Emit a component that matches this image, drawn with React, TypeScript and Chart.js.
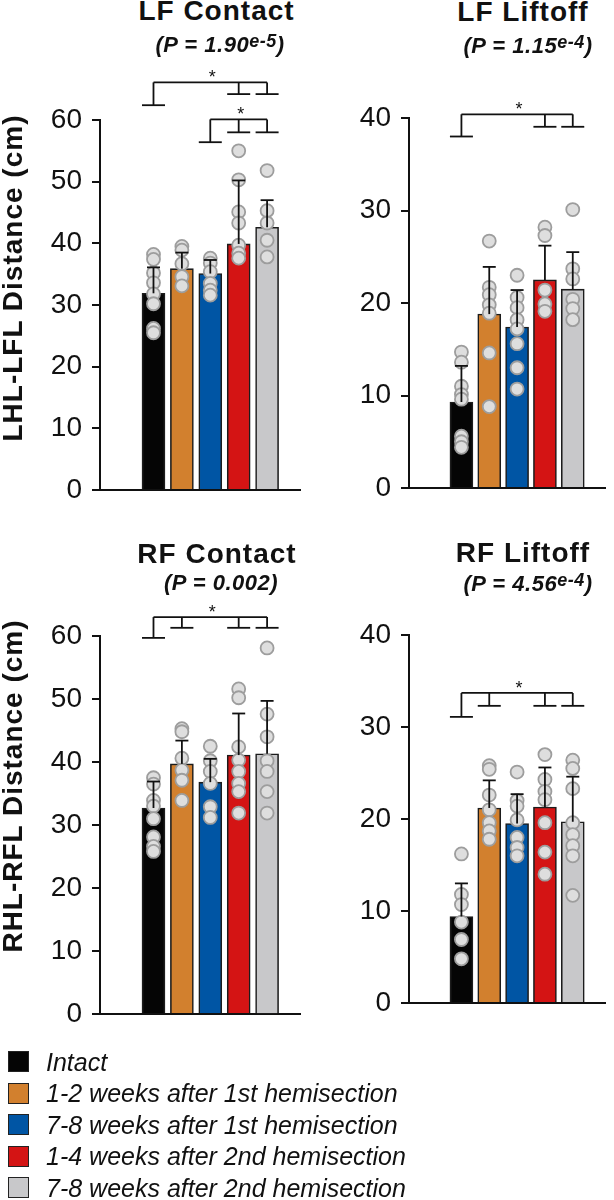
import React, { useEffect, useRef } from 'react';
import { Chart, registerables } from 'chart.js';

Chart.register(...registerables);

const FONT = '"Liberation Sans", Arial, Helvetica, sans-serif';
Chart.defaults.font.family = FONT;

// ---------- data ----------
const groupLabels = [
  'Intact',
  '1-2 weeks after 1st hemisection',
  '7-8 weeks after 1st hemisection',
  '1-4 weeks after 2nd hemisection',
  '7-8 weeks after 2nd hemisection',
];
const groupColors = ['#050505', '#d2802e', '#0055a4', '#d41414', '#c8c8ca'];
const groupPositions = [0, 1, 2, 3, 4];

const panelTitles = ['LF Contact', 'LF Liftoff', 'RF Contact', 'RF Liftoff'];
const pValueMain = ['1.90', '1.15', '0.002', '4.56'];
const pValueExp = ['e-5', 'e-4', '', 'e-4'];
const yAxisTitles = ['LHL-LFL Distance (cm)', 'RHL-RFL Distance (cm)'];

// LF Contact
const lfContactMeans = [31.9, 35.9, 35.1, 39.9, 42.6];
const lfContactSD = [4.2, 2.6, 2.2, 10.3, 4.4];
const lfContactPoints = [
  [38.2, 37.4, 35.2, 33.6, 31.8, 30.2, 26.2, 25.5],
  [39.5, 38.9, 36.7, 34.6, 33.1],
  [37.6, 36.8, 35.4, 33.5, 32.4, 31.6],
  [55.0, 50.3, 45.1, 43.3, 39.7, 38.4, 37.6],
  [51.8, 45.3, 43.3, 40.5, 37.8],
];

// LF Liftoff
const lfLiftoffMeans = [9.3, 18.8, 17.4, 22.5, 21.5];
const lfLiftoffSD = [3.9, 5.1, 4.0, 3.7, 4.0];
const lfLiftoffPoints = [
  [14.7, 13.6, 11.0, 10.1, 9.6, 5.6, 5.0, 4.4],
  [26.7, 21.7, 20.9, 19.8, 18.9, 14.6, 8.8],
  [23.0, 20.6, 19.5, 18.2, 17.2, 15.6, 13.0, 10.7],
  [28.2, 27.3, 21.4, 19.9, 19.1],
  [30.1, 23.7, 22.6, 20.4, 19.4, 18.2],
];

// RF Contact
const rfContactMeans = [32.7, 39.7, 36.8, 41.1, 41.3];
const rfContactSD = [4.2, 3.7, 3.7, 6.6, 8.4];
const rfContactPoints = [
  [37.5, 36.5, 33.9, 33.0, 31.0, 28.1, 26.6, 25.8],
  [45.3, 44.8, 40.6, 38.7, 37.1, 33.9],
  [42.5, 40.2, 38.5, 36.6, 32.9, 31.2],
  [51.6, 50.2, 42.4, 40.3, 38.5, 36.6, 35.3, 31.9],
  [58.1, 47.6, 44.0, 40.2, 38.5, 35.3, 31.9],
];

// RF Liftoff
const rfLiftoffMeans = [9.4, 21.2, 19.5, 21.3, 19.7];
const rfLiftoffSD = [3.6, 3.0, 3.2, 4.3, 4.9];
const rfLiftoffPoints = [
  [16.2, 11.8, 10.7, 8.8, 6.9, 4.8],
  [25.8, 25.4, 22.6, 21.0, 19.6, 18.7, 17.8],
  [25.1, 22.0, 21.4, 19.9, 18.0, 16.9, 16.0],
  [27.0, 24.3, 23.0, 22.1, 19.6, 16.4, 14.0],
  [26.4, 25.5, 23.3, 19.6, 18.3, 17.1, 16.0, 11.7],
];

type Stem = { group: number; end: number };
type Bracket = { level: number; stems: Stem[] };

const lfContactBrackets: Bracket[] = [
  { level: 66.1, stems: [{ group: 0, end: 62.4 }, { group: 3, end: 64.2 }, { group: 4, end: 64.2 }] },
  { level: 60.1, stems: [{ group: 2, end: 56.4 }, { group: 3, end: 58.0 }, { group: 4, end: 58.0 }] },
];
const lfLiftoffBrackets: Bracket[] = [
  { level: 40.4, stems: [{ group: 0, end: 38.0 }, { group: 3, end: 39.05 }, { group: 4, end: 39.05 }] },
];
const rfContactBrackets: Bracket[] = [
  { level: 63.0, stems: [{ group: 0, end: 59.7 }, { group: 1, end: 61.3 }, { group: 3, end: 61.3 }, { group: 4, end: 61.3 }] },
];
const rfLiftoffBrackets: Bracket[] = [
  { level: 33.7, stems: [{ group: 0, end: 31.1 }, { group: 1, end: 32.3 }, { group: 3, end: 32.3 }, { group: 4, end: 32.3 }] },
];

// ---------- layout ----------
type Box = { left: number; top: number; width: number; height: number; padTop: number; padBottom: number; padRight: number };

const boxes: Box[] = [
  { left: 0, top: 40, width: 309, height: 470, padTop: 80, padBottom: 20, padRight: 3 },
  { left: 309, top: 40, width: 305, height: 470, padTop: 78, padBottom: 22, padRight: 0 },
  { left: 0, top: 540, width: 309, height: 490, padTop: 96, padBottom: 16, padRight: 3 },
  { left: 309, top: 540, width: 305, height: 490, padTop: 95, padBottom: 27, padRight: 0 },
];

type PanelProps = {
  box: Box;
  yMax: number;
  means: number[];
  sd: number[];
  points: number[][];
  brackets: Bracket[];
};

function Panel({ box, yMax, means, sd, points, brackets }: PanelProps) {
  const ref = useRef<HTMLCanvasElement>(null);
  useEffect(() => {
    const canvas = ref.current;
    if (!canvas) return;
    const barData = means.map((m, gi) => ({ x: groupPositions[gi], y: m }));
    const scatterData = points.flatMap((vals, gi) => vals.map((v) => ({ x: groupPositions[gi], y: v })));

    const overlay = {
      id: 'sigOverlay',
      afterDatasetsDraw(chart: any) {
        const { ctx } = chart;
        const xs = chart.scales.x;
        const ys = chart.scales.y;
        const line = (x1: number, y1: number, x2: number, y2: number) => {
          ctx.beginPath();
          ctx.moveTo(x1, y1);
          ctx.lineTo(x2, y2);
          ctx.stroke();
        };
        ctx.save();
        ctx.strokeStyle = '#111';
        ctx.lineWidth = 1.8;
        ctx.lineCap = 'butt';
        // error bars (mean + SD)
        means.forEach((m, i) => {
          const px = xs.getPixelForValue(groupPositions[i]);
          const y0 = ys.getPixelForValue(m);
          const y1 = ys.getPixelForValue(m + sd[i]);
          line(px, y0, px, y1);
          line(px - 6.5, y1, px + 6.5, y1);
        });
        // significance brackets
        brackets.forEach((b) => {
          const ly = ys.getPixelForValue(b.level);
          const sx = b.stems.map((s) => xs.getPixelForValue(groupPositions[s.group]));
          const minX = Math.min(...sx);
          const maxX = Math.max(...sx);
          line(minX, ly, maxX, ly);
          b.stems.forEach((s, k) => {
            const ey = ys.getPixelForValue(s.end);
            line(sx[k], ly, sx[k], ey);
            line(sx[k] - 11.5, ey, sx[k] + 11.5, ey);
          });
          ctx.fillStyle = '#111';
          ctx.font = `18px ${FONT}`;
          ctx.textAlign = 'center';
          ctx.textBaseline = 'alphabetic';
          ctx.fillText('*', (minX + maxX) / 2 + 2, ly + 1);
        });
        ctx.restore();
      },
    };

    const chart = new Chart(canvas, {
      type: 'bar',
      data: {
        datasets: [
          {
            type: 'bar',
            label: 'mean',
            data: barData as any,
            backgroundColor: groupColors,
            borderColor: '#1c1c1c',
            borderWidth: 1.6,
            barThickness: 23,
            order: 2,
          },
          {
            type: 'scatter',
            label: 'animals',
            data: scatterData as any,
            pointRadius: 6.5,
            pointBackgroundColor: '#dedede',
            pointBorderColor: '#9d9d9d',
            pointBorderWidth: 1.8,
            order: 1,
            clip: false as any,
          },
        ] as any,
      },
      options: {
        responsive: false,
        animation: false,
        events: [],
        layout: { padding: { top: box.padTop, bottom: box.padBottom, right: box.padRight, left: 0 } },
        plugins: { legend: { display: false }, tooltip: { enabled: false }, title: { display: false } },
        scales: {
          x: {
            type: 'linear',
            min: -1,
            max: 4.3,
            display: true,
            grid: { display: false, drawTicks: false },
            ticks: { display: false },
            border: { display: true, color: '#111', width: 2 },
            afterFit: (s: any) => {
              s.height = 0;
              s.paddingLeft = 0;
              s.paddingRight = 0;
            },
          },
          y: {
            min: 0,
            max: yMax,
            ticks: { stepSize: 10, color: '#111', padding: 10, font: { size: 28, family: FONT } },
            grid: { display: true, drawOnChartArea: false, drawTicks: true, tickLength: 8, color: '#111', lineWidth: 2 },
            border: { display: true, color: '#111', width: 2 },
            afterFit: (s: any) => {
              s.width = 100;
              s.paddingTop = 0;
              s.paddingBottom = 0;
            },
          },
        },
      } as any,
      plugins: [overlay],
    });
    return () => chart.destroy();
  }, []);
  return (
    <canvas
      ref={ref}
      width={box.width}
      height={box.height}
      style={{ position: 'absolute', left: box.left, top: box.top, width: box.width, height: box.height }}
    />
  );
}

function TextAt({ cx, baseline, size, children, style }: any) {
  return (
    <div
      style={{
        position: 'absolute',
        left: cx - 200,
        width: 400,
        top: baseline - 0.8465 * size,
        fontSize: size,
        lineHeight: `${size}px`,
        textAlign: 'center',
        whiteSpace: 'nowrap',
        fontFamily: FONT,
        color: '#111',
        pointerEvents: 'none',
        ...style,
      }}
    >
      {children}
    </div>
  );
}

function PValue({ cx, baseline, main, exp }: any) {
  return (
    <TextAt cx={cx} baseline={baseline} size={22} style={{ fontWeight: 'bold', fontStyle: 'italic', letterSpacing: 0.5 }}>
      (P = {main}
      {exp ? <span style={{ fontSize: 18, verticalAlign: 5, lineHeight: 0 }}>{exp}</span> : null})
    </TextAt>
  );
}

function YTitle({ cx, cy, text }: any) {
  return (
    <div
      style={{
        position: 'absolute',
        left: cx - 210,
        top: cy - 14,
        width: 420,
        height: 28,
        lineHeight: '28px',
        fontSize: 28,
        fontWeight: 'bold',
        letterSpacing: 1,
        textAlign: 'center',
        whiteSpace: 'nowrap',
        fontFamily: FONT,
        color: '#111',
        transform: 'rotate(-90deg)',
        pointerEvents: 'none',
      }}
    >
      {text}
    </div>
  );
}

const titlePos = [
  { cx: 216.5, tb: 21, pcx: 220, pb: 53 },
  { cx: 523, tb: 22, pcx: 528, pb: 54 },
  { cx: 217, tb: 564, pcx: 221, pb: 591 },
  { cx: 523, tb: 563, pcx: 528, pb: 592 },
];

export default function App() {
  const panels: PanelProps[] = [
    { box: boxes[0], yMax: 60, means: lfContactMeans, sd: lfContactSD, points: lfContactPoints, brackets: lfContactBrackets },
    { box: boxes[1], yMax: 40, means: lfLiftoffMeans, sd: lfLiftoffSD, points: lfLiftoffPoints, brackets: lfLiftoffBrackets },
    { box: boxes[2], yMax: 60, means: rfContactMeans, sd: rfContactSD, points: rfContactPoints, brackets: rfContactBrackets },
    { box: boxes[3], yMax: 40, means: rfLiftoffMeans, sd: rfLiftoffSD, points: rfLiftoffPoints, brackets: rfLiftoffBrackets },
  ];
  return (
    <div style={{ position: 'absolute', left: 0, top: 0, width: 614, height: 1200, background: '#fff', overflow: 'hidden' }}>
      {panels.map((p, i) => (
        <Panel key={i} {...p} />
      ))}
      {panelTitles.map((t, i) => (
        <React.Fragment key={t}>
          <TextAt cx={titlePos[i].cx} baseline={titlePos[i].tb} size={28} style={{ fontWeight: 'bold', letterSpacing: 1 }}>
            {t}
          </TextAt>
          <PValue cx={titlePos[i].pcx} baseline={titlePos[i].pb} main={pValueMain[i]} exp={pValueExp[i]} />
        </React.Fragment>
      ))}
      <YTitle cx={13.3} cy={277.5} text={yAxisTitles[0]} />
      <YTitle cx={13.3} cy={786} text={yAxisTitles[1]} />
      {groupLabels.map((g, i) => {
        const baseline = 1071 + i * 31.5;
        return (
          <React.Fragment key={g}>
            <div
              style={{
                position: 'absolute',
                left: 8,
                top: baseline - 20,
                width: 21,
                height: 21,
                boxSizing: 'border-box',
                background: groupColors[i],
                border: '1.5px solid #222',
              }}
            />
            <div
              style={{
                position: 'absolute',
                left: 46,
                top: baseline - 0.8465 * 25,
                fontSize: 25,
                lineHeight: '25px',
                fontStyle: 'italic',
                whiteSpace: 'nowrap',
                fontFamily: FONT,
                color: '#111',
              }}
            >
              {g}
            </div>
          </React.Fragment>
        );
      })}
    </div>
  );
}
